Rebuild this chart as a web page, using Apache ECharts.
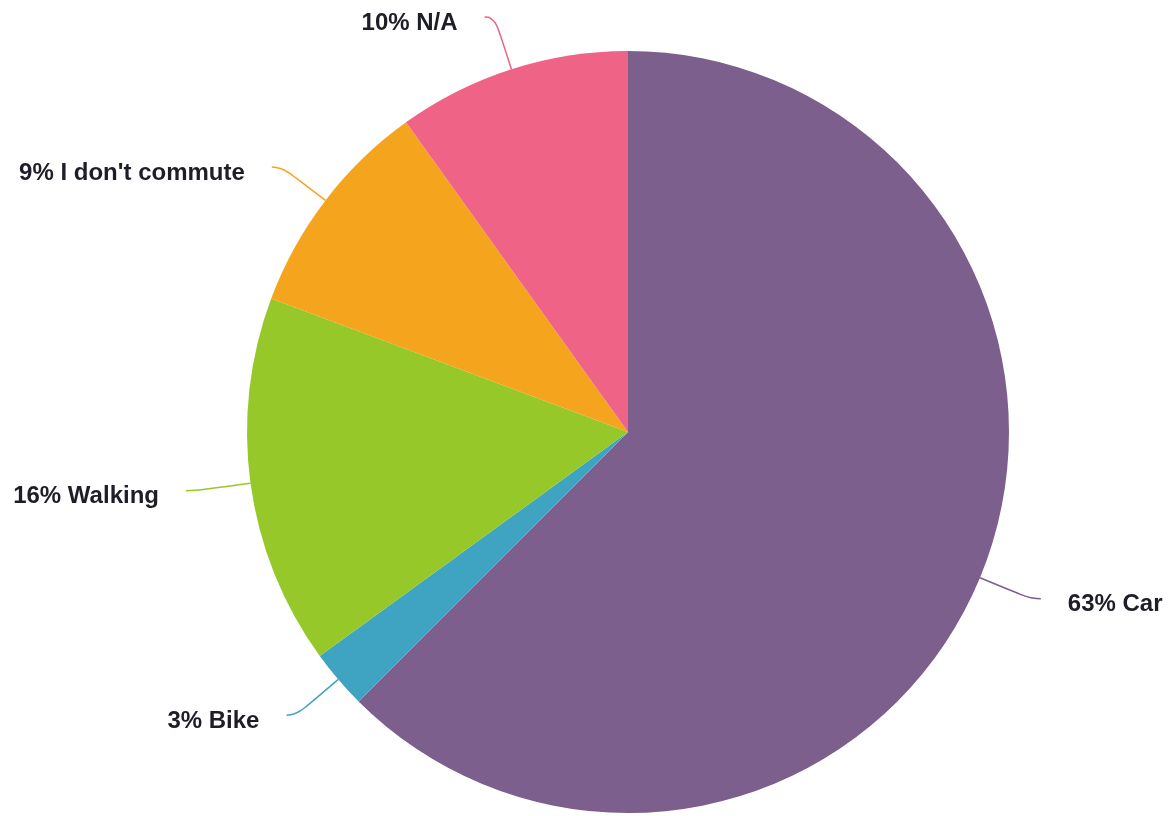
<!DOCTYPE html>
<html>
<head>
<meta charset="utf-8">
<script src="https://cdn.jsdelivr.net/npm/echarts@6/dist/echarts.min.js"></script>
<style>
  html, body { margin: 0; padding: 0; background: #fff; }
  #main { width: 1174px; height: 816px; }
</style>
</head>
<body>
<div id="main"></div>
<script>
// slices, clockwise from 12 o'clock
const categories = ['Car', 'Bike', 'Walking', "I don't commute", 'N/A'];
const shares = [62.5, 2.5, 15.7, 9.4, 9.9];
const percentLabels = [63, 3, 16, 9, 10];
const colors = ['#7c5f8d', '#3fa3c2', '#97c82a', '#f4a41d', '#ee6386'];

const chart = echarts.init(document.getElementById('main'));

chart.setOption({
  animation: false,
  series: [{
    type: 'pie',
    center: [628, 432],
    radius: 381,
    startAngle: 90,
    clockwise: true,
    avoidLabelOverlap: false,
    data: categories.map((name, i) => ({
      name: name,
      value: shares[i],
      itemStyle: {color: colors[i]},
      labelLine: {lineStyle: {color: colors[i]}}
    })),
    itemStyle: {borderWidth: 0},
    label: {
      // empty spacer line on top pushes the text a little below the line end
      formatter: p => '{s| }\n{t|' + percentLabels[p.dataIndex] + '% ' + p.name + '}',
      distanceToLabelLine: 27,
      rich: {
        s: {fontSize: 2, lineHeight: 12},
        t: {
          fontFamily: 'Liberation Sans, Arial, sans-serif',
          fontWeight: 'bold',
          fontSize: 24,
          lineHeight: 28,
          color: '#1e1e28'
        }
      }
    },
    labelLine: {
      show: true,
      length: 55,
      length2: 10,
      smooth: 0.6,
      lineStyle: {width: 1.5}
    },
    emphasis: {disabled: true}
  }]
});
</script>
</body>
</html>
